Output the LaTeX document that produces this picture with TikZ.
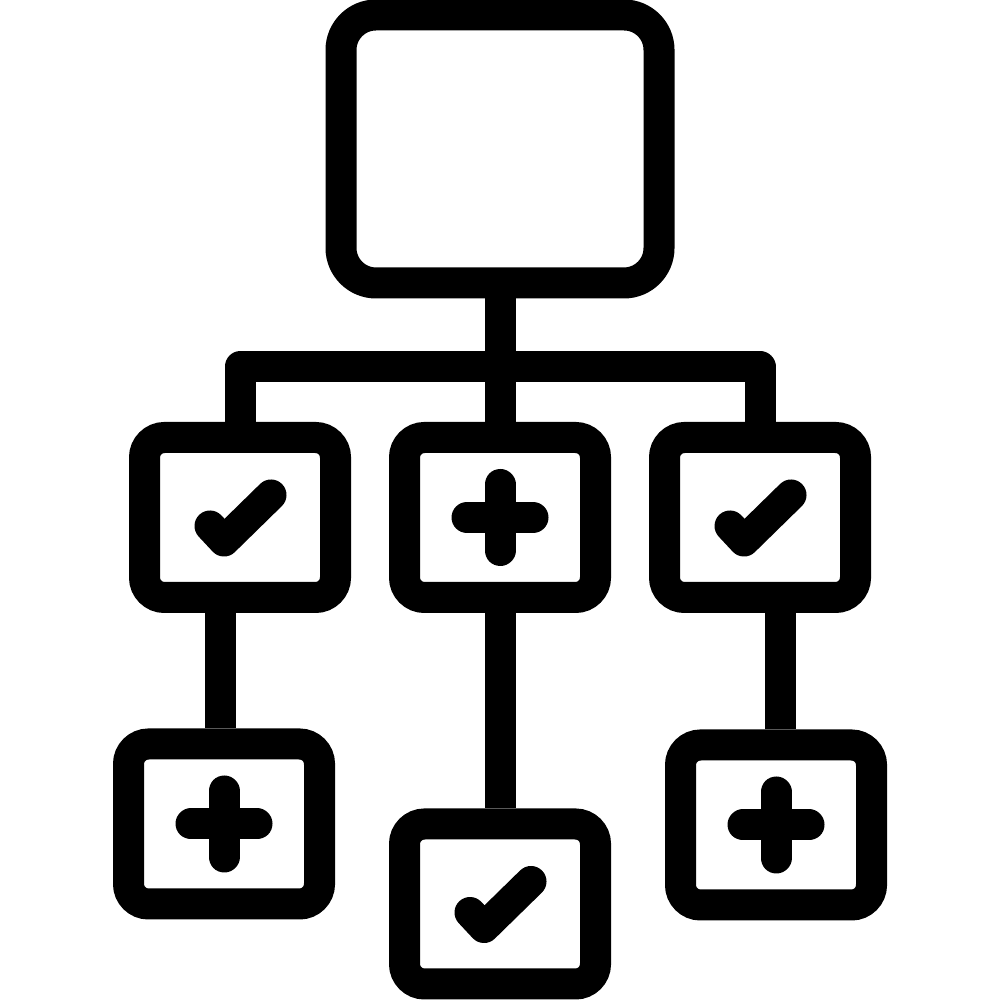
\documentclass[tikz,border=0pt]{standalone}

\begin{document}
\begin{tikzpicture}[
    box/.style={draw, line width=0.31cm, rounded corners=0.2cm, minimum width=1.91cm, minimum height=1.6cm, inner sep=0pt},
    topbox/.style={box, rounded corners=0.35cm, minimum width=3.18cm, minimum height=2.68cm},
    link/.style={line width=0.31cm, line join=round},
    markline/.style={line width=0.31cm, line cap=round, line join=round},
    okmark/.pic={\draw[markline] (-0.30,-0.085) -- (-0.16,-0.235) -- (0.31,0.225);},
    addmark/.pic={\draw[markline] (0,-0.33) -- (0,0.33) (-0.33,0) -- (0.33,0);}
]
    \useasboundingbox (0,0) rectangle (10,10);

    %root
    \node[topbox] (root) at (5,8.51) {};

    %middle row
    \node[box] (ml) at (2.4,4.825) {};
    \node[box] (mm) at (5.0,4.825) {};
    \node[box] (mr) at (7.6,4.825) {};
    \pic at (ml) {okmark};
    \pic at (mm) {addmark};
    \pic at (mr) {okmark};

    %bottom row
    \node[box] (bl) at (2.24,1.76) {};
    \node[box] (bm) at (5.0,0.96) {};
    \node[box] (br) at (7.76,1.75) {};
    \pic at (bl) {addmark};
    \pic at (bm) {okmark};
    \pic at (br) {addmark};

    %links
    \coordinate (bar) at (5,6.33);
    \draw[link] (root.south) -- (mm.north);
    \draw[link] (ml.north) |- (bar) -| (mr.north);
    \draw[link] ([xshift=-0.04cm]bl.north) -- ([xshift=-0.04cm]bl.north |- ml.south);
    \draw[link] (mm.south) -- (bm.north);
    \draw[link] ([xshift=0.04cm]br.north) -- ([xshift=0.04cm]br.north |- mr.south);
\end{tikzpicture}
\end{document}
